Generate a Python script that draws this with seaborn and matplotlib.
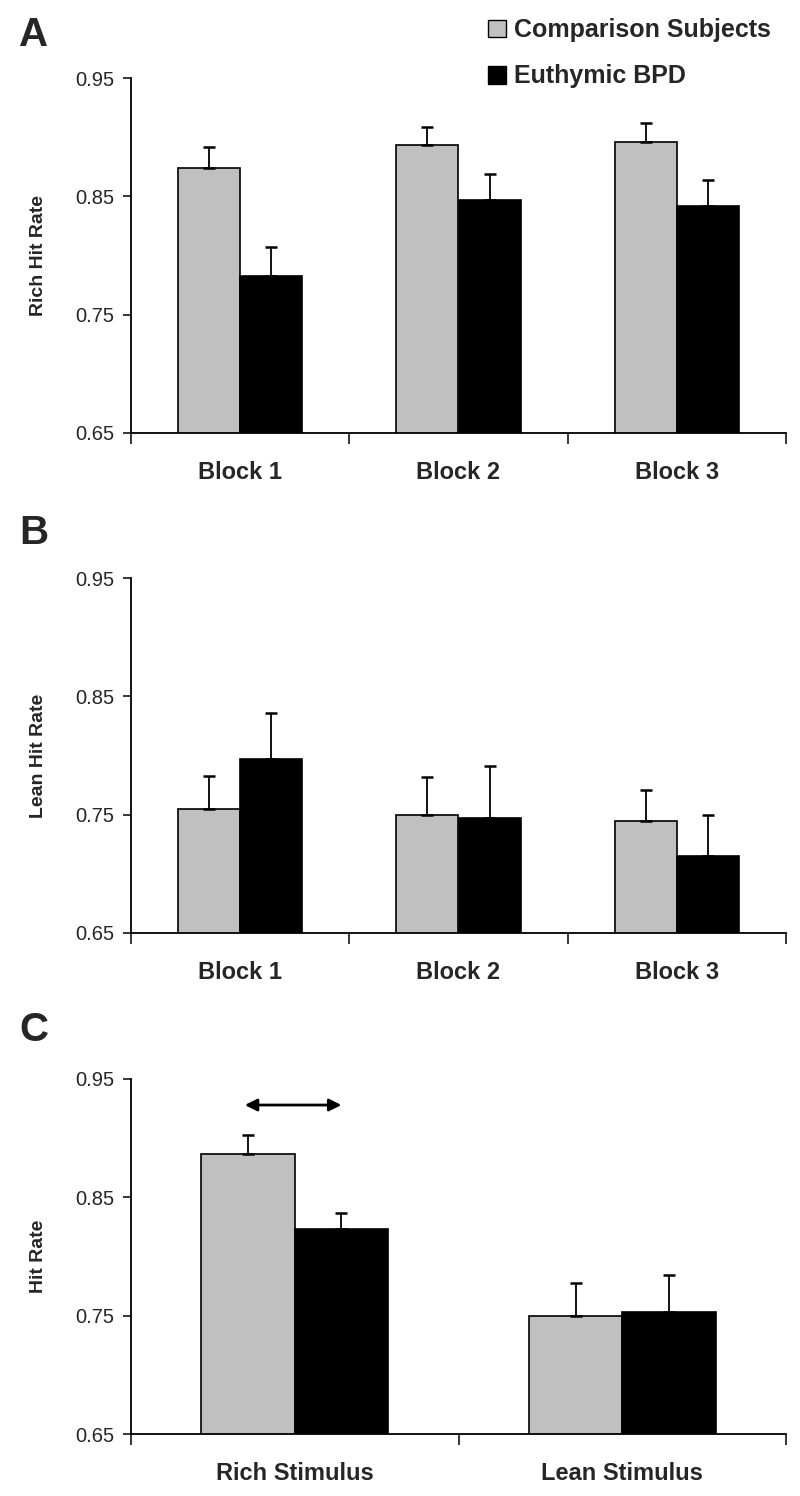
import matplotlib
matplotlib.use("Agg")
import matplotlib.pyplot as plt
import seaborn as sns
import pandas as pd
from matplotlib.patches import Patch
from matplotlib.ticker import FixedLocator

sns.set_theme(style="ticks")
plt.rcParams['font.family'] = ['Liberation Sans', 'DejaVu Sans']

groups = ["Comparison Subjects", "Euthymic BPD"]
blocks = ["Block 1", "Block 2", "Block 3"]
stimuli = ["Rich Stimulus", "Lean Stimulus"]

rich_comp = [0.874, 0.893, 0.896]
rich_comp_err = [0.018, 0.016, 0.016]
rich_bpd = [0.783, 0.847, 0.842]
rich_bpd_err = [0.024, 0.022, 0.022]

lean_comp = [0.755, 0.750, 0.745]
lean_comp_err = [0.028, 0.032, 0.026]
lean_bpd = [0.797, 0.747, 0.715]
lean_bpd_err = [0.039, 0.044, 0.035]

hit_comp = [0.887, 0.750]
hit_comp_err = [0.016, 0.028]
hit_bpd = [0.823, 0.753]
hit_bpd_err = [0.014, 0.031]

yticks = [0.65, 0.75, 0.85, 0.95]
colors = {"Comparison Subjects": "#c0c0c0", "Euthymic BPD": "#000000"}

fig = plt.figure(figsize=(8, 14.96), dpi=100)
L, W, H = 131/800, 655/800, 355/1496
axA = fig.add_axes([L, 1-433/1496, W, H])
axB = fig.add_axes([L, 1-933/1496, W, H])
axC = fig.add_axes([L, 1-1434/1496, W, H])


def panel(ax, cats, comp, comp_err, bpd, bpd_err, ylabel, width):
    df = pd.DataFrame({
        "cat": cats + cats,
        "val": comp + bpd,
        "group": [groups[0]]*len(cats) + [groups[1]]*len(cats),
    })
    sns.barplot(data=df, x="cat", y="val", hue="group", order=cats, hue_order=groups,
                palette=colors, edgecolor="black", linewidth=1.2, width=width,
                errorbar=None, ax=ax, legend=False, saturation=1)
    for cont, errs in zip(ax.containers, [comp_err, bpd_err]):
        for bar, e in zip(cont, errs):
            xc = bar.get_x() + bar.get_width()/2
            ax.errorbar([xc], [bar.get_height()], yerr=[[0], [e]], fmt="none",
                        ecolor="black", elinewidth=1.3, capsize=4, capthick=1.8, zorder=1)
    n = len(cats)
    ax.set_xlim(-0.5, n-0.5)
    ax.set_ylim(0.65, 0.95)
    ax.set_yticks(yticks)
    ax.set_yticklabels([f"{t:.2f}" for t in yticks], fontsize=14.5)
    ax.xaxis.set_minor_locator(FixedLocator([i-0.5 for i in range(n+1)]))
    ax.tick_params(axis="x", which="major", length=0, pad=20, labelsize=17)
    ax.tick_params(axis="x", which="minor", length=8, width=1.3, direction="out")
    ax.tick_params(axis="y", length=6, width=1.3, direction="out", pad=6)
    for lab in ax.get_xticklabels():
        lab.set_fontweight("bold")
    ax.set_xlabel("")
    ax.set_ylabel(ylabel, fontsize=14, fontweight="bold", labelpad=20)
    sns.despine(ax=ax)
    for s in ["left", "bottom"]:
        ax.spines[s].set_linewidth(1.3)
        ax.spines[s].set_color("black")
    ax.set_facecolor("white")


panel(axA, blocks, rich_comp, rich_comp_err, rich_bpd, rich_bpd_err, "Rich Hit Rate", 0.57)
panel(axB, blocks, lean_comp, lean_comp_err, lean_bpd, lean_bpd_err, "Lean Hit Rate", 0.57)
panel(axC, stimuli, hit_comp, hit_comp_err, hit_bpd, hit_bpd_err, "Hit Rate", 0.57)

# significance arrow in panel C
b0 = axC.containers[0][0]
b1 = axC.containers[1][0]
x0 = b0.get_x() + b0.get_width()/2
x1 = b1.get_x() + b1.get_width()/2
axC.annotate("", xy=(x1, 0.928), xytext=(x0 - 0.01, 0.928),
             arrowprops=dict(arrowstyle="<|-|>", color="black", lw=2.0,
                             mutation_scale=18, shrinkA=0, shrinkB=0))

for letter, y in zip(["A", "B", "C"], [35, 533, 1030]):
    fig.text(19/800, 1-y/1496, letter, fontsize=29, fontweight="bold",
             va="center", ha="left")

handles = [Patch(facecolor=colors[g], edgecolor="black", linewidth=1.0) for g in groups]
leg = fig.legend(handles, groups, loc="upper left", bbox_to_anchor=(488/800, 1-18/1496),
                 frameon=False, handlelength=0.7, handleheight=0.7, handletextpad=0.35,
                 labelspacing=0.9, borderpad=0, borderaxespad=0,
                 prop={"size": 18, "weight": "bold"})

fig.savefig("out.png", dpi=100, facecolor="white")
